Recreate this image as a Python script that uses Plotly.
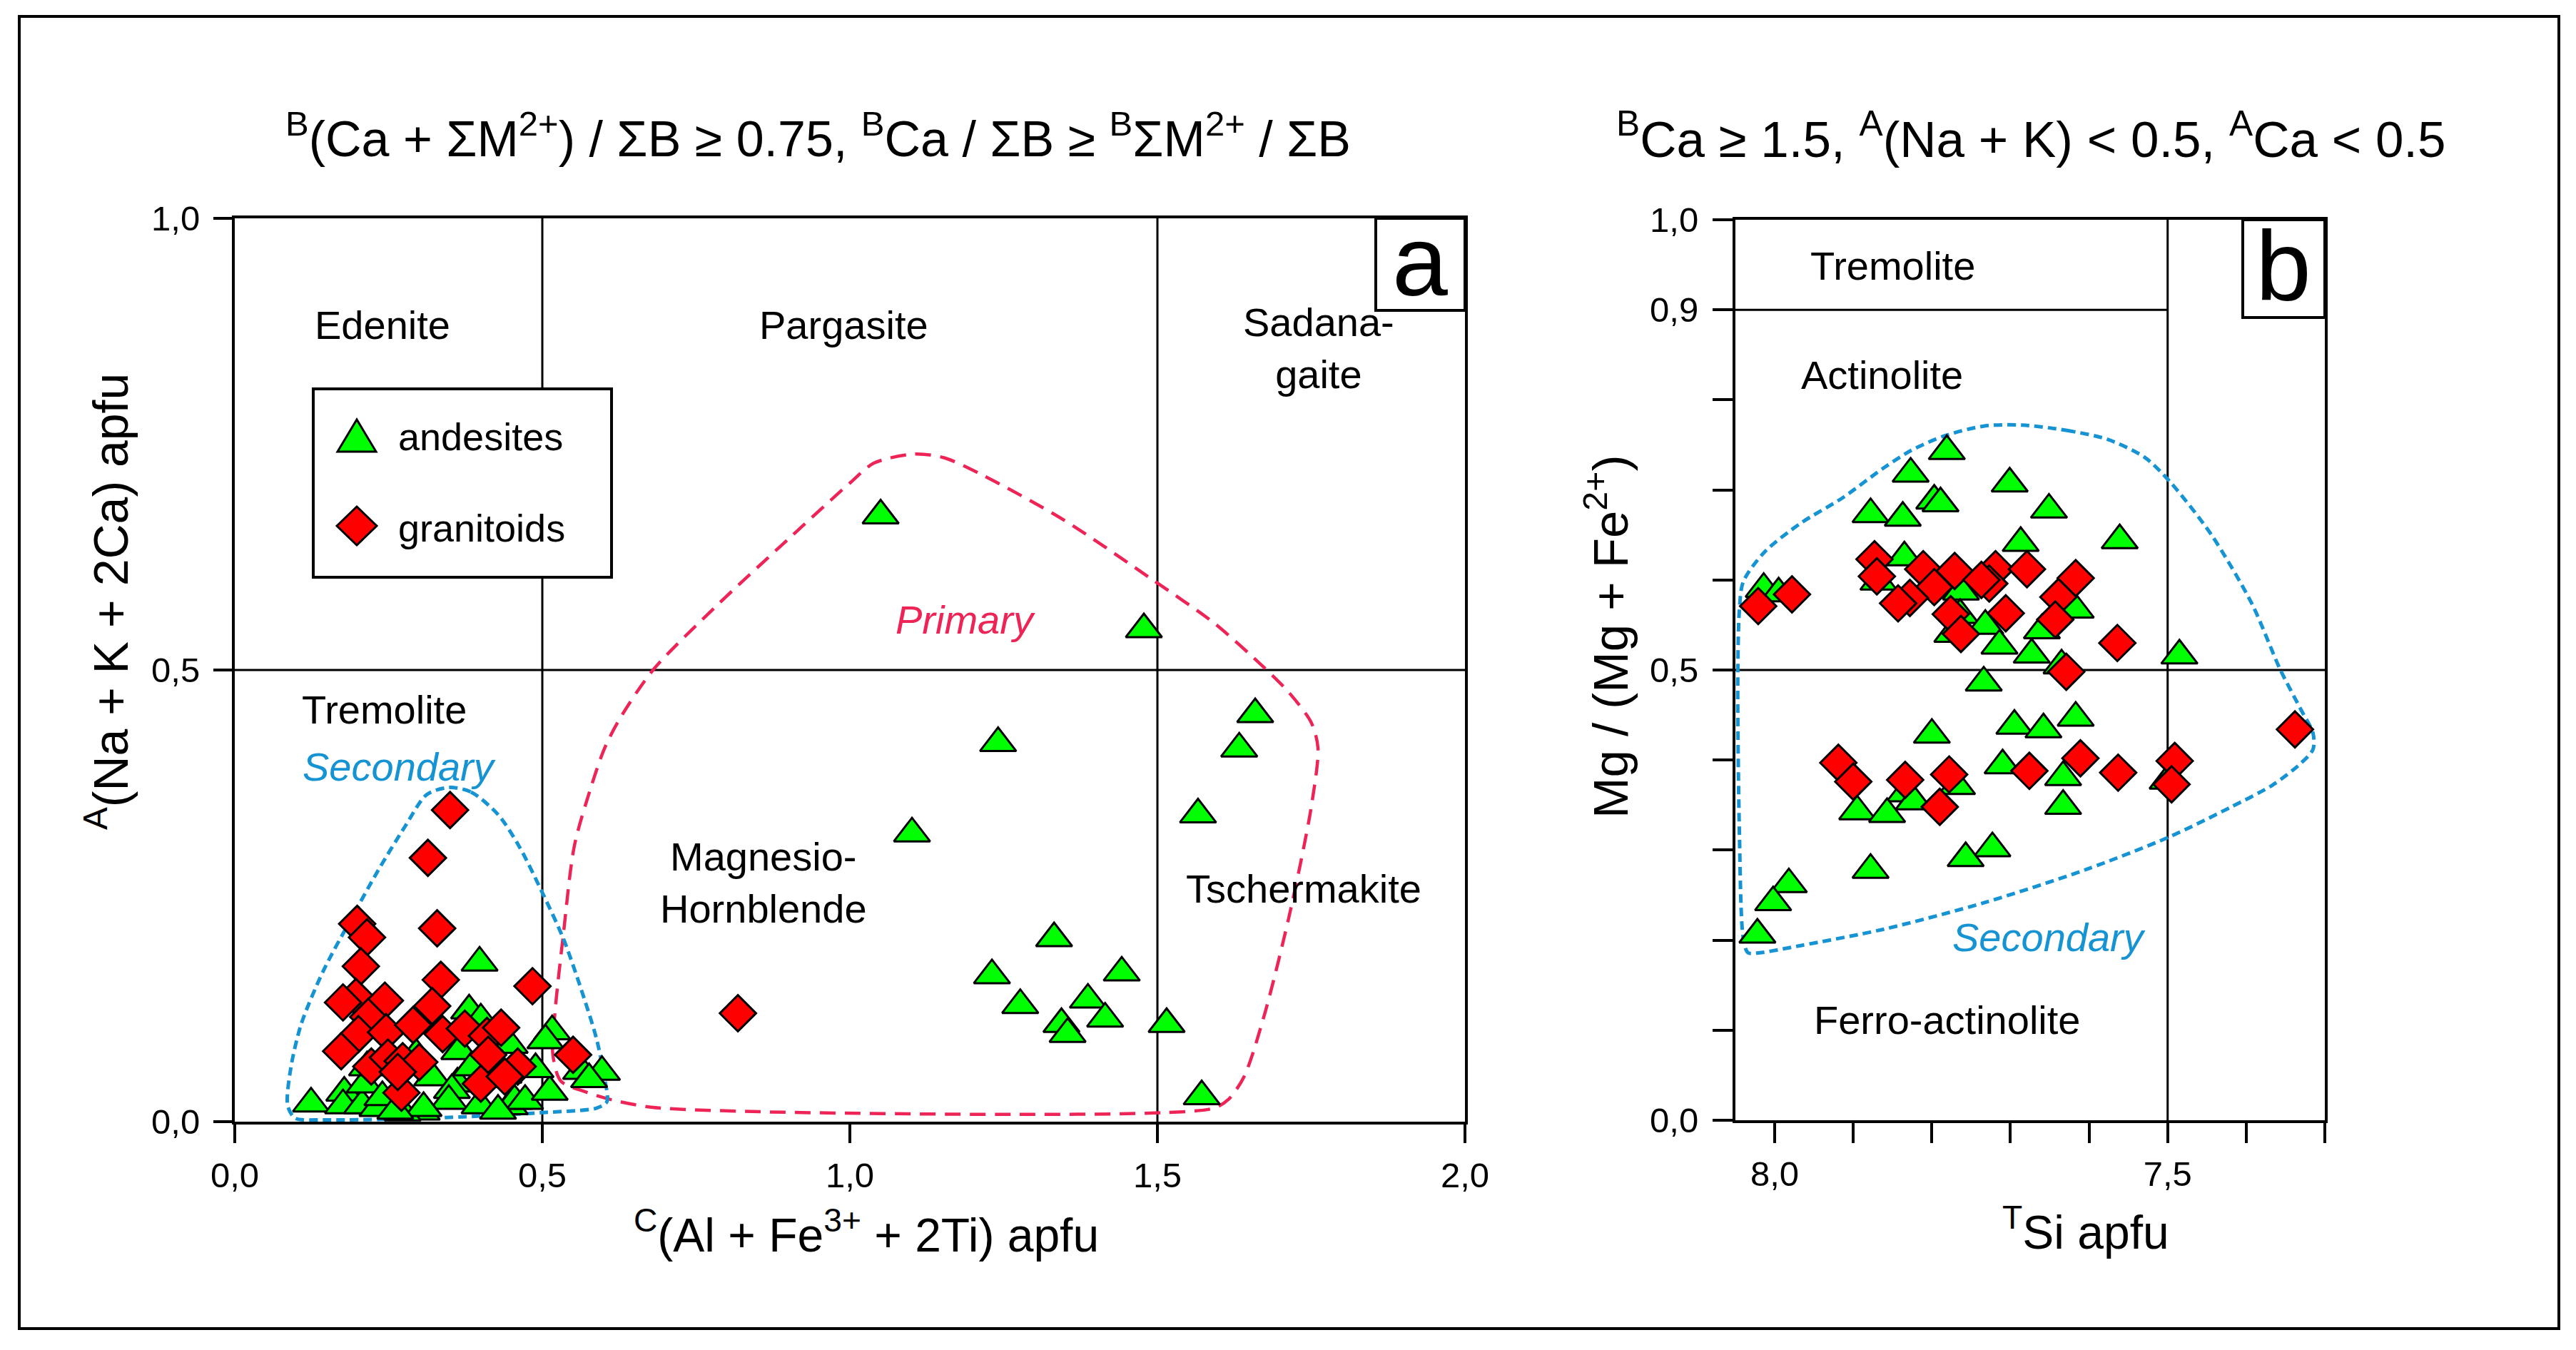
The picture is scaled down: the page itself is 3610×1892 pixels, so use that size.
import plotly.graph_objects as go

W, H = 3610, 1892
FONT = "Liberation Sans"
GREEN = "#00FF00"
RED = "#FF0000"
PINK = "#EE2457"
BLUE = "#1593D3"

# ---- panel a : C(Al + Fe3+ + 2Ti) vs A(Na + K + 2Ca) ----
andesites_a_x = [1.05, 1.478, 1.659, 1.633, 1.566, 1.241, 1.101, 1.332, 1.231, 1.442, 1.277, 1.387,
                 1.415, 1.344, 1.354, 1.515, 1.572,
                 0.398, 0.381, 0.400, 0.516, 0.505, 0.597, 0.563, 0.576, 0.124, 0.178, 0.176, 0.207,
                 0.232, 0.268, 0.304, 0.321, 0.362, 0.353, 0.348, 0.398, 0.447, 0.455, 0.472, 0.512,
                 0.489, 0.415, 0.447, 0.365, 0.211, 0.240, 0.295, 0.437, 0.273, 0.428, 0.307, 0.261,
                 0.215, 0.385]
andesites_a_y = [0.671, 0.545, 0.451, 0.413, 0.340, 0.419, 0.319, 0.203, 0.162, 0.165, 0.129, 0.135,
                 0.114, 0.108, 0.097, 0.108, 0.028,
                 0.176, 0.123, 0.113, 0.100, 0.090, 0.055, 0.056, 0.047, 0.020, 0.032, 0.018, 0.018,
                 0.015, 0.012, 0.011, 0.049, 0.042, 0.035, 0.023, 0.018, 0.017, 0.023, 0.023, 0.033,
                 0.058, 0.047, 0.085, 0.078, 0.041, 0.027, 0.074, 0.052, 0.010, 0.012, 0.015, 0.012,
                 0.060, 0.060]
granitoids_a_x = [0.350, 0.314, 0.329, 0.199, 0.215, 0.205, 0.335, 0.484, 0.197, 0.176, 0.244, 0.321,
                  0.217, 0.201, 0.246, 0.290, 0.338, 0.374, 0.410, 0.433, 0.173, 0.550, 0.222, 0.249,
                  0.273, 0.300, 0.412, 0.460, 0.271, 0.400, 0.439, 0.265, 0.818]
granitoids_a_y = [0.345, 0.292, 0.214, 0.219, 0.204, 0.172, 0.157, 0.150, 0.138, 0.132, 0.134, 0.128,
                  0.116, 0.097, 0.099, 0.107, 0.097, 0.103, 0.095, 0.104, 0.078, 0.074, 0.061, 0.071,
                  0.067, 0.066, 0.074, 0.061, 0.032, 0.042, 0.050, 0.055, 0.120]

primary_x = [0.530, 0.517, 0.521, 0.534, 0.552, 0.579, 0.601, 0.625, 0.680, 0.780, 0.900, 1.000,
             1.039, 1.104, 1.153, 1.218, 1.348, 1.494, 1.592, 1.673, 1.714, 1.750, 1.761, 1.750,
             1.714, 1.673, 1.641, 1.616, 1.592, 1.511, 1.267, 0.854, 0.677, 0.614, 0.570, 0.530]
primary_y = [0.045, 0.075, 0.124, 0.206, 0.305, 0.370, 0.413, 0.445, 0.500, 0.569, 0.645, 0.707,
             0.729, 0.739, 0.735, 0.715, 0.666, 0.599, 0.552, 0.503, 0.475, 0.442, 0.414, 0.348,
             0.227, 0.116, 0.050, 0.025, 0.015, 0.010, 0.008, 0.011, 0.016, 0.024, 0.033, 0.045]
secondary_a_x = [0.348, 0.384, 0.428, 0.463, 0.499, 0.534, 0.561, 0.588, 0.601, 0.605, 0.588, 0.499,
                 0.322, 0.144, 0.098, 0.086, 0.091, 0.108, 0.144, 0.188, 0.233, 0.277, 0.312, 0.348]
secondary_a_y = [0.370, 0.365, 0.340, 0.304, 0.255, 0.203, 0.151, 0.092, 0.049, 0.022, 0.015, 0.010,
                 0.004, 0.002, 0.004, 0.018, 0.059, 0.108, 0.167, 0.223, 0.278, 0.327, 0.362, 0.370]

# ---- panel b : TSi vs Mg / (Mg + Fe2+) ----
andesites_b_x = [7.781, 7.827, 7.701, 7.797, 7.789, 7.651, 7.878, 7.837, 7.561, 7.687, 7.835, 8.014,
                 7.995, 7.868, 7.763, 7.764, 7.732, 7.660, 7.774, 7.714, 7.673, 7.635, 7.485, 7.617,
                 7.734, 7.695, 7.658, 7.617, 7.800, 7.710, 7.633, 7.500, 7.768, 7.834, 7.633, 7.895,
                 7.857, 7.823, 7.723, 7.757, 7.878, 7.982, 8.002, 8.022]
andesites_b_y = [0.743, 0.718, 0.707, 0.688, 0.685, 0.678, 0.673, 0.669, 0.644, 0.641, 0.625, 0.590,
                 0.585, 0.598, 0.587, 0.561, 0.549, 0.544, 0.540, 0.527, 0.517, 0.505, 0.516, 0.567,
                 0.486, 0.438, 0.434, 0.447, 0.428, 0.394, 0.381, 0.377, 0.371, 0.363, 0.349, 0.343,
                 0.340, 0.354, 0.302, 0.291, 0.278, 0.262, 0.242, 0.206]
granitoids_b_x = [7.873, 7.870, 7.811, 7.771, 7.797, 7.828, 7.843, 7.719, 7.727, 7.737, 7.679, 7.617,
                  7.639, 7.643, 7.706, 7.776, 7.763, 7.564, 7.629, 8.021, 7.978, 7.338, 7.919, 7.900,
                  7.834, 7.778, 7.790, 7.676, 7.611, 7.563, 7.491, 7.495]
granitoids_b_y = [0.623, 0.604, 0.612, 0.610, 0.592, 0.580, 0.574, 0.612, 0.596, 0.600, 0.612, 0.602,
                  0.581, 0.556, 0.563, 0.562, 0.540, 0.530, 0.498, 0.571, 0.584, 0.434, 0.397, 0.376,
                  0.378, 0.384, 0.348, 0.388, 0.402, 0.386, 0.399, 0.373]

secondary_b_x = [7.685, 7.628, 7.576, 7.529, 7.497, 7.445, 7.393, 7.357, 7.331, 7.315, 7.315, 7.331,
                 7.367, 7.419, 7.497, 7.602, 7.732, 7.862, 7.967, 8.019, 8.034, 8.040, 8.045, 8.047,
                 8.045, 8.040, 8.013, 7.967, 7.914, 7.862, 7.826, 7.784, 7.733, 7.685]
secondary_b_y = [0.772, 0.766, 0.756, 0.736, 0.709, 0.651, 0.574, 0.501, 0.457, 0.430, 0.412, 0.396,
                 0.372, 0.348, 0.315, 0.279, 0.242, 0.212, 0.194, 0.186, 0.186, 0.202, 0.323, 0.485,
                 0.566, 0.598, 0.631, 0.663, 0.691, 0.724, 0.744, 0.760, 0.771, 0.772]


def px(x):
    return x / W


def py(y):
    return 1 - y / H


def font(size, color="black"):
    return dict(family=FONT, size=size, color=color)


fig = go.Figure()

for xs, ys, col, dash, lw, ax in [(primary_x, primary_y, PINK, "22px,13px", 4.5, ("x", "y")),
                                  (secondary_a_x, secondary_a_y, BLUE, "12px,7px", 5, ("x", "y")),
                                  (secondary_b_x, secondary_b_y, BLUE, "12px,7px", 5, ("x2", "y2"))]:
    fig.add_trace(go.Scatter(x=xs, y=ys, mode="lines", xaxis=ax[0], yaxis=ax[1],
                             line=dict(color=col, width=lw, dash=dash, shape="spline", smoothing=0.8),
                             hoverinfo="skip"))

mk_tri = dict(symbol="triangle-up", size=44, color=GREEN, line=dict(color="black", width=3))
mk_dia = dict(symbol="diamond", size=39, color=RED, line=dict(color="black", width=3))

fig.add_trace(go.Scatter(x=andesites_a_x, y=andesites_a_y, mode="markers", marker=mk_tri, name="andesites"))
fig.add_trace(go.Scatter(x=granitoids_a_x, y=granitoids_a_y, mode="markers", marker=mk_dia, name="granitoids"))
fig.add_trace(go.Scatter(x=andesites_b_x, y=andesites_b_y, mode="markers", marker=mk_tri,
                         xaxis="x2", yaxis="y2", name="andesites"))
fig.add_trace(go.Scatter(x=granitoids_b_x, y=granitoids_b_y, mode="markers", marker=mk_dia,
                         xaxis="x2", yaxis="y2", name="granitoids"))

shapes = []
# field boundaries
line_k = dict(color="black", width=3)
shapes += [
    dict(type="line", xref="x", yref="y", x0=0.5, x1=0.5, y0=0, y1=1, line=line_k, layer="below"),
    dict(type="line", xref="x", yref="y", x0=1.5, x1=1.5, y0=0, y1=1, line=line_k, layer="below"),
    dict(type="line", xref="x", yref="y", x0=0, x1=2, y0=0.5, y1=0.5, line=line_k, layer="below"),
    dict(type="line", xref="x2", yref="y2", x0=7.5, x1=7.5, y0=0, y1=1, line=line_k, layer="below"),
    dict(type="line", xref="x2", yref="y2", x0=8.05, x1=7.3, y0=0.5, y1=0.5, line=line_k, layer="below"),
    dict(type="line", xref="x2", yref="y2", x0=8.05, x1=7.5, y0=0.9, y1=0.9, line=line_k, layer="below"),
]
# outer frame
shapes.append(dict(type="rect", xref="paper", yref="paper", x0=px(27), x1=px(3586), y0=py(1862), y1=py(23),
                   line=dict(color="black", width=4)))
# panel letter boxes
shapes.append(dict(type="rect", xref="paper", yref="paper", x0=px(1928), x1=px(2053), y0=py(435), y1=py(306),
                   line=dict(color="black", width=4), fillcolor="white"))
shapes.append(dict(type="rect", xref="paper", yref="paper", x0=px(3143), x1=px(3258), y0=py(445), y1=py(308),
                   line=dict(color="black", width=4), fillcolor="white"))
# legend box and glyphs
shapes.append(dict(type="rect", xref="paper", yref="paper", x0=px(439), x1=px(857), y0=py(809), y1=py(545),
                   line=dict(color="black", width=4), fillcolor="white", layer="above"))
tri = "M {},{} L {},{} L {},{} Z".format(px(473), py(633), px(527), py(633), px(500), py(588))
dia = "M {},{} L {},{} L {},{} L {},{} Z".format(px(472), py(737), px(500), py(710), px(528), py(737),
                                                  px(500), py(764))
shapes.append(dict(type="path", xref="paper", yref="paper", path=tri, fillcolor=GREEN,
                   line=dict(color="black", width=3), layer="above"))
shapes.append(dict(type="path", xref="paper", yref="paper", path=dia, fillcolor=RED,
                   line=dict(color="black", width=3), layer="above"))

ann = []


def note(text, x, y, xref, yref, size=56, color="black", italic=False, xanchor="center", **kw):
    t = "<i>" + text + "</i>" if italic else text
    ann.append(dict(text=t, x=x, y=y, xref=xref, yref=yref, showarrow=False, font=font(size, color),
                    xanchor=xanchor, yanchor="middle", **kw))


# titles
note("<sup>B</sup>(Ca + ΣM<sup>2+</sup>) / ΣB ≥ 0.75, <sup>B</sup>Ca / ΣB ≥ <sup>B</sup>ΣM<sup>2+</sup> / ΣB",
     px(1146), py(190), "paper", "paper", size=70)
note("<sup>B</sup>Ca ≥ 1.5, <sup>A</sup>(Na + K) < 0.5, <sup>A</sup>Ca < 0.5",
     px(2846), py(190), "paper", "paper", size=71)
# axis titles
note("<sup>C</sup>(Al + Fe<sup>3+</sup> + 2Ti) apfu", px(1214), py(1726), "paper", "paper", size=66)
note("<sup>T</sup>Si apfu", px(2923), py(1722), "paper", "paper", size=66)
note("<sup>A</sup>(Na + K + 2Ca) apfu", px(150), py(843), "paper", "paper", size=68, textangle=-90)
note("Mg / (Mg + Fe<sup>2+</sup>)", px(2252), py(893), "paper", "paper", size=69, textangle=-90)
# panel letters
note("a", px(1990), py(366), "paper", "paper", size=140)
note("b", px(3200), py(372), "paper", "paper", size=140)
# legend text
note("andesites", px(556), py(612), "paper", "paper", size=54, xanchor="left")
note("granitoids", px(556), py(740), "paper", "paper", size=54, xanchor="left")
# field names, panel a
note("Edenite", 0.24, 0.882, "x", "y")
note("Pargasite", 0.99, 0.882, "x", "y")
note("Sadana-<br>gaite", 1.762, 0.856, "x", "y")
note("Tremolite", 0.243, 0.456, "x", "y")
note("Secondary", 0.267, 0.393, "x", "y", color=BLUE, italic=True)
note("Primary", 1.188, 0.556, "x", "y", color=PINK, italic=True)
note("Magnesio-<br>Hornblende", 0.86, 0.265, "x", "y")
note("Tschermakite", 1.738, 0.258, "x", "y")
# field names, panel b
note("Tremolite", 7.85, 0.949, "x2", "y2")
note("Actinolite", 7.863, 0.828, "x2", "y2")
note("Secondary", 7.651, 0.203, "x2", "y2", color=BLUE, italic=True)
note("Ferro-actinolite", 7.781, 0.111, "x2", "y2")

axis_common = dict(showline=True, linewidth=4, linecolor="black", mirror=True, showgrid=False,
                   zeroline=False, ticks="outside", tickwidth=4, tickcolor="black", tickfont=font(49),
                   automargin=False)

fig.update_layout(
    width=W, height=H, margin=dict(l=0, r=0, t=0, b=0, pad=0, autoexpand=False),
    paper_bgcolor="white", plot_bgcolor="white", showlegend=False, hovermode=False,
    xaxis=dict(domain=[px(329), px(2053)], range=[0, 2], anchor="y",
               tickvals=[0, 0.5, 1, 1.5, 2], ticktext=["0,0", "0,5", "1,0", "1,5", "2,0"],
               ticklen=26, ticklabelstandoff=3, **axis_common),
    yaxis=dict(domain=[py(1572), py(306)], range=[0, 1], anchor="x",
               tickvals=[0, 0.5, 1], ticktext=["0,0", "0,5", "1,0"],
               ticklen=26, ticklabelstandoff=9, **axis_common),
    xaxis2=dict(domain=[px(2432), px(3258)], range=[8.05, 7.3], anchor="y2",
                tickvals=[8.0, 7.9, 7.8, 7.7, 7.6, 7.5, 7.4, 7.3],
                ticktext=["8,0", "", "", "", "", "7,5", "", ""],
                ticklen=28, ticklabelstandoff=1, **axis_common),
    yaxis2=dict(domain=[py(1570), py(308)], range=[0, 1], anchor="x2",
                tickvals=[0, 0.1, 0.2, 0.3, 0.4, 0.5, 0.6, 0.7, 0.8, 0.9, 1.0],
                ticktext=["0,0", "", "", "", "", "0,5", "", "", "", "0,9", "1,0"],
                ticklen=28, ticklabelstandoff=10, **axis_common),
    shapes=shapes, annotations=ann,
)

fig.write_html("out.html", config={"displayModeBar": False},
               post_script="document.body.style.margin='0';")
